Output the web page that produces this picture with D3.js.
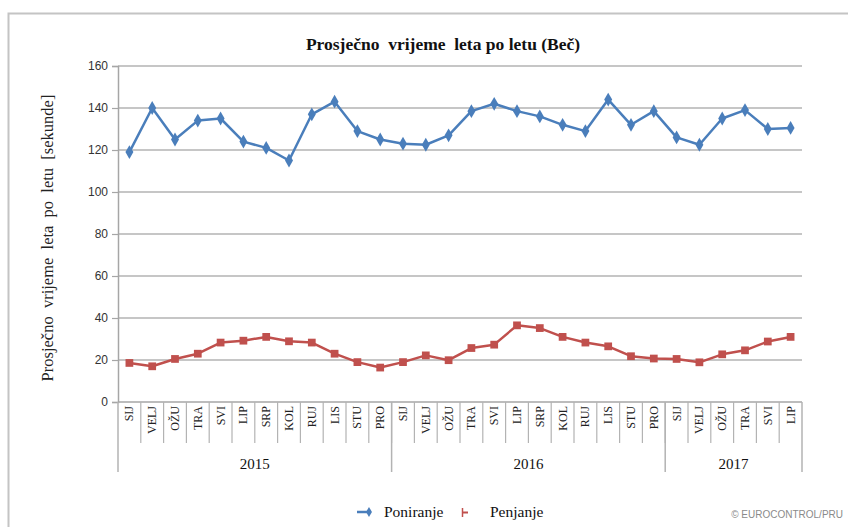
<!DOCTYPE html>
<html>
<head>
<meta charset="utf-8">
<script src="https://cdn.jsdelivr.net/npm/d3@7/dist/d3.min.js"></script>
<style>
  html, body { margin: 0; padding: 0; background: #fff; }
  svg { display: block; }
  .pre { white-space: pre; }
</style>
</head>
<body>
<svg id="chart" width="848" height="527"></svg>
<script>
// Month labels (Croatian abbreviations) and year groups
const years = ["2015", "2016", "2017"];
const monthsPerYear = [12, 12, 6];
const months = ["SIJ","VELJ","OŽU","TRA","SVI","LIP","SRP","KOL","RUJ","LIS","STU","PRO"];

// Average flight time per flight in seconds
const poniranje = [119, 140, 125, 134, 135, 124, 121, 115, 137, 143, 129, 125,
                   123, 122.5, 127, 138.5, 142, 138.5, 136, 132, 129, 144, 132, 138.5,
                   126, 122.5, 135, 139, 130, 130.5];
const penjanje  = [18.6, 17, 20.5, 23, 28.3, 29.2, 31, 28.9, 28.3, 23, 19, 16.4,
                   19, 22.2, 19.9, 25.7, 27.3, 36.5, 35.2, 31, 28.3, 26.5, 21.8, 20.7,
                   20.5, 18.9, 22.7, 24.6, 28.8, 31];
const yTicks = [0, 20, 40, 60, 80, 100, 120, 140, 160];

const seriesNames = ["Poniranje", "Penjanje"];
const colors = ["#4a7ebb", "#c0504d"];

// Build category list: one entry per month
const cats = [];
years.forEach((yr, yi) => {
  for (let m = 0; m < monthsPerYear[yi]; m++) cats.push({ id: yr + "-" + m, label: months[m], year: yr });
});

const svg = d3.select("#chart");
const serif = "'Liberation Serif', 'Times New Roman', serif";
const sans = "'Liberation Sans', Arial, sans-serif";

// Outer frame
svg.append("rect")
  .attr("x", 8.5).attr("y", 13.5).attr("width", 860).attr("height", 540)
  .attr("fill", "none").attr("stroke", "#c4c4c4").attr("stroke-width", 2);

const plotL = 118, plotR = 802, plotT = 66, plotB = 402;

const x = d3.scaleBand().domain(cats.map(d => d.id)).range([plotL, plotR]).padding(0);
const y = d3.scaleLinear().domain([0, 160]).range([plotB, plotT]);

// Title
svg.append("text")
  .attr("class", "pre")
  .attr("x", 443).attr("y", 50)
  .attr("text-anchor", "middle")
  .attr("font-family", serif).attr("font-weight", "bold").attr("font-size", 17.5)
  .attr("fill", "#111")
  .text("Prosječno  vrijeme  leta po letu (Beč)");

// Horizontal gridlines
svg.append("g").selectAll("line").data(yTicks.filter(t => t > 0)).join("line")
  .attr("x1", plotL).attr("x2", plotR)
  .attr("y1", d => y(d)).attr("y2", d => y(d))
  .attr("stroke", "#b3b3b3").attr("stroke-width", 1.5);

// Y axis
const yAxis = svg.append("g")
  .attr("transform", `translate(${plotL},0)`)
  .call(d3.axisLeft(y).tickValues(yTicks).tickSize(6).tickPadding(4).tickFormat(d3.format("d")));
yAxis.select(".domain").attr("stroke", "#a6a6a6").attr("stroke-width", 1.5);
yAxis.selectAll(".tick line").attr("stroke", "#a6a6a6").attr("stroke-width", 1.2);
yAxis.selectAll(".tick text").attr("font-family", sans).attr("font-size", 12).attr("fill", "#333");

// Y axis title
svg.append("text")
  .attr("class", "pre")
  .attr("transform", `translate(53,238) rotate(-90)`)
  .attr("text-anchor", "middle")
  .attr("font-family", serif).attr("font-size", 16.5).attr("fill", "#222")
  .text("Prosječno  vrijeme  leta  po  letu  [sekunde]");

// X axis baseline
svg.append("line")
  .attr("x1", plotL).attr("x2", plotR).attr("y1", plotB).attr("y2", plotB)
  .attr("stroke", "#a6a6a6").attr("stroke-width", 1.5);

// Month cell separators
const catG = svg.append("g");
catG.selectAll("line").data(cats.slice(1)).join("line")
  .attr("x1", d => x(d.id)).attr("x2", d => x(d.id))
  .attr("y1", plotB).attr("y2", 443)
  .attr("stroke", "#b3b3b3").attr("stroke-width", 1.2);

// Month labels (rotated)
catG.selectAll("text").data(cats).join("text")
  .attr("transform", d => `translate(${x(d.id) + x.bandwidth() / 2 + 4},${plotB + 4}) rotate(-90)`)
  .attr("text-anchor", "end")
  .attr("font-family", serif).attr("font-size", 12).attr("fill", "#222")
  .text(d => d.label);

// Year separators and labels
let start = 0;
const yearBounds = years.map((yr, i) => {
  const s = start; start += monthsPerYear[i];
  return { year: yr, x0: x(cats[s].id), x1: x(cats[start - 1].id) + x.bandwidth() };
});
const yearEdges = [yearBounds[0].x0].concat(yearBounds.map(b => b.x1));
svg.append("g").selectAll("line").data(yearEdges).join("line")
  .attr("x1", d => d).attr("x2", d => d)
  .attr("y1", plotB).attr("y2", 472)
  .attr("stroke", "#b3b3b3").attr("stroke-width", 1.5);
svg.append("g").selectAll("text").data(yearBounds).join("text")
  .attr("x", d => (d.x0 + d.x1) / 2).attr("y", 469)
  .attr("text-anchor", "middle")
  .attr("font-family", serif).attr("font-size", 15).attr("fill", "#111")
  .text(d => d.year);

// Series lines and markers
const line = d3.line().x((d, i) => x(cats[i].id) + x.bandwidth() / 2).y(d => y(d));
[poniranje, penjanje].forEach((vals, si) => {
  svg.append("path").datum(vals)
    .attr("d", line)
    .attr("fill", "none").attr("stroke", colors[si]).attr("stroke-width", 2.5)
    .attr("stroke-linejoin", "round");
  const sym = si === 0 ? d3.symbolDiamond : d3.symbolSquare;
  const size = si === 0 ? 55 : 60;
  svg.append("g").selectAll("path").data(vals).join("path")
    .attr("transform", (d, i) => `translate(${x(cats[i].id) + x.bandwidth() / 2},${y(d)})`)
    .attr("d", d3.symbol(sym, size))
    .attr("fill", colors[si]);
});

// Legend
const lg = svg.append("g");
lg.append("line").attr("x1", 357).attr("x2", 371).attr("y1", 512).attr("y2", 512)
  .attr("stroke", colors[0]).attr("stroke-width", 2.5);
lg.append("path").attr("transform", "translate(369,512)").attr("d", d3.symbol(d3.symbolDiamond, 30)).attr("fill", colors[0]);
lg.append("text").attr("x", 384).attr("y", 517)
  .attr("font-family", serif).attr("font-size", 15.5).attr("fill", "#111").text(seriesNames[0]);
lg.append("line").attr("x1", 462.5).attr("x2", 462.5).attr("y1", 508).attr("y2", 517)
  .attr("stroke", colors[1]).attr("stroke-width", 1.5);
lg.append("line").attr("x1", 462).attr("x2", 468).attr("y1", 512.5).attr("y2", 512.5)
  .attr("stroke", colors[1]).attr("stroke-width", 2);
lg.append("text").attr("x", 490).attr("y", 517)
  .attr("font-family", serif).attr("font-size", 15.5).attr("fill", "#111").text(seriesNames[1]);

// Source note
svg.append("text").attr("x", 843).attr("y", 518)
  .attr("text-anchor", "end")
  .attr("font-family", sans).attr("font-size", 10).attr("fill", "#8a8a8a")
  .text("© EUROCONTROL/PRU");
</script>
</body>
</html>
